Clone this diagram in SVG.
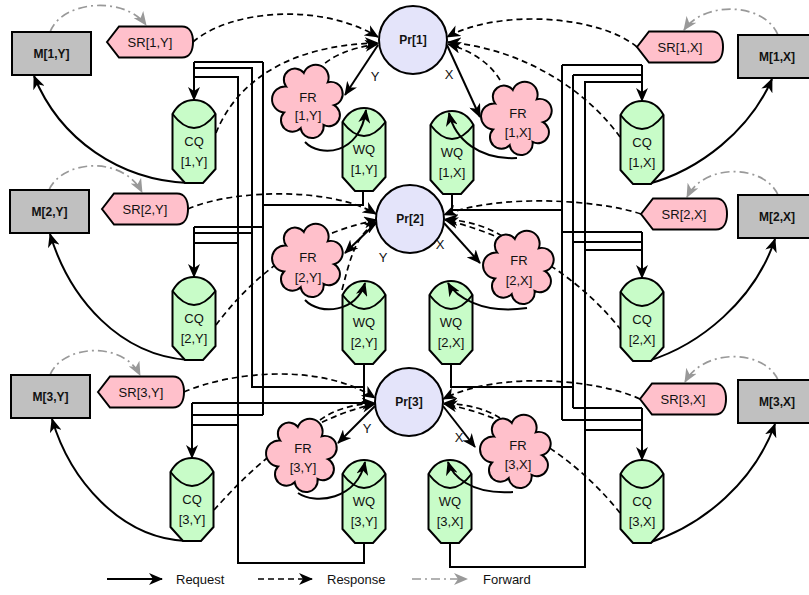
<svg xmlns="http://www.w3.org/2000/svg" width="809" height="595" viewBox="0 0 809 595">
<style>
text{font-family:"Liberation Sans",Arial,sans-serif;font-size:13px;fill:#111;text-anchor:middle}
.b{font-weight:bold;font-size:12px}
.m{fill:#C0C0C0;stroke:#000;stroke-width:2}
.pr{fill:#E4E4FA;stroke:#000;stroke-width:2}
.s{fill:none;stroke:#000;stroke-width:2}
.sa{fill:none;stroke:#000;stroke-width:2;marker-end:url(#ab)}
.d{fill:none;stroke:#000;stroke-width:1.7;stroke-dasharray:6 4;marker-end:url(#ab)}
.f{fill:none;stroke:#999;stroke-width:1.7;stroke-dasharray:9 4 2 4;marker-end:url(#ag)}
</style>
<defs>
<marker id="ab" viewBox="0 0 14 12" refX="13" refY="6" markerWidth="14" markerHeight="12" markerUnits="userSpaceOnUse" orient="auto"><path d="M0,0 L14,6 L0,12 L4,6 Z" fill="#000"/></marker>
<marker id="ag" viewBox="0 0 14 12" refX="13" refY="6" markerWidth="14" markerHeight="12" markerUnits="userSpaceOnUse" orient="auto"><path d="M0,0 L14,6 L0,12 L4,6 Z" fill="#999"/></marker>
<g id="queue">
<path d="M-21.5,14 C-16,4 -8,0 0,0 C8,0 16,4 21.5,14 V69 L9,83 H-9 L-21.5,69 Z" fill="#C8FCC8" stroke="#000" stroke-width="2"/>
<path d="M-21.5,14 Q0,42 21.5,14" fill="none" stroke="#000" stroke-width="2"/>
</g>
<path id="cloud" d="M-5,-26 A1 1 0 0 1 18,-17 A1 1 0 0 1 24,5 A1 1 0 0 1 14,24 A1 1 0 0 1 -8,27 A1 1 0 0 1 -24,12 A1 1 0 0 1 -22,-13 A1 1 0 0 1 -5,-26 Z" fill="#FFC0CB" stroke="#000" stroke-width="1.9"/>
<path id="sr" d="M-43,0 L-31,-15.5 H32 C40,-15.5 43,-8 43,0 C43,8 40,15.5 32,15.5 H-31 Z" fill="#FFC0CB" stroke="#000" stroke-width="2"/>
</defs>
<rect width="809" height="595" fill="#fff"/>

<g id="connectors">
<path class="f" d="M50,32 C62,0 125,-4 146,25"/>
<path class="f" d="M49,190 C62,160 122,155 142,192"/>
<path class="f" d="M50,375 C62,345 122,340 140,375"/>
<path class="f" d="M778,35 C765,3 705,0 684,30"/>
<path class="f" d="M778,195 C765,165 705,162 687,197"/>
<path class="f" d="M778,380 C765,350 705,347 685,382"/>
<path class="sa" d="M188,183 C120,180 60,140 34,76"/>
<path class="sa" d="M188,360 C120,355 70,300 50,234"/>
<path class="sa" d="M186,541 C120,538 70,480 52,419"/>
<path class="sa" d="M648,184 C700,170 750,130 772,79"/>
<path class="sa" d="M648,361 C700,345 755,300 775,239"/>
<path class="sa" d="M648,543 C705,525 755,480 775,424"/>
<path class="d" d="M193,42 C230,10 320,2 378,37"/>
<path class="d" d="M188,209 C230,190 330,186 376,214"/>
<path class="d" d="M184,392 C230,372 320,362 375,398"/>
<path class="d" d="M637,47 C600,16 500,8 447,37"/>
<path class="d" d="M641,214 C600,200 500,193 444,215"/>
<path class="d" d="M640,399 C600,380 500,370 443,399"/>
<path class="d" d="M216,133 C235,85 285,45 378,43"/>
<path class="d" d="M216,325 C250,280 300,235 377,220"/>
<path class="d" d="M214,510 C250,470 300,420 375,404"/>
<path class="d" d="M620,137 C590,95 530,50 448,42"/>
<path class="d" d="M621,330 C590,290 530,240 445,220"/>
<path class="d" d="M620,513 C590,475 530,420 444,404"/>
<path class="d" d="M318,70 Q335,50 378,44"/>
<path class="d" d="M342,290 C350,260 355,235 377,222"/>
<path class="d" d="M320,420 Q340,405 375,403"/>
<path class="d" d="M500,80 Q485,55 448,44"/>
<path class="d" d="M502,236 Q480,222 445,219"/>
<path class="d" d="M500,418 Q480,405 444,403"/>
<path class="s" d="M363,191 V205 H263 M263,62 V415 M263,62 H194 M263,227 H194 M263,415 H192"/>
<path class="s" d="M364,364 V403 H192 M364,387 H252 V68 H194 M252,233 H194"/>
<path class="s" d="M364,543 V563 H238 V77 H194 M238,243 H194 M238,425 H192"/>
<path class="sa" d="M194,62 V100"/>
<path class="sa" d="M194,227 V277"/>
<path class="sa" d="M192,403 V458"/>
<path class="s" d="M452,194 V210 H562 M562,65 V420 M562,65 H642 M562,232 H642 M562,420 H642"/>
<path class="s" d="M451,364 V387 H573 M573,75 V408 M573,75 H642 M573,242 H642 M573,408 H642"/>
<path class="s" d="M450,543 V567 H585 V82 H642 M585,250 H642 M585,430 H642"/>
<path class="sa" d="M642,65 V101"/>
<path class="sa" d="M642,232 V278"/>
<path class="sa" d="M642,408 V460"/>
</g>

<g id="M_1_Y"><rect class="m" x="12" y="32" width="79" height="43"/><text class="b" x="51.5" y="58">M[1,Y]</text></g>
<g id="M_2_Y"><rect class="m" x="10" y="190" width="79" height="43"/><text class="b" x="49.5" y="216">M[2,Y]</text></g>
<g id="M_3_Y"><rect class="m" x="11" y="375" width="79" height="43"/><text class="b" x="50.5" y="401">M[3,Y]</text></g>
<g id="M_1_X"><rect class="m" x="738" y="35" width="79" height="43"/><text class="b" x="777" y="61">M[1,X]</text></g>
<g id="M_2_X"><rect class="m" x="738" y="195" width="79" height="43"/><text class="b" x="777" y="221">M[2,X]</text></g>
<g id="M_3_X"><rect class="m" x="738" y="380" width="79" height="43"/><text class="b" x="777" y="406">M[3,X]</text></g>

<g id="SR_1_Y"><use href="#sr" x="150" y="42"/><text x="150" y="47">SR[1,Y]</text></g>
<g id="SR_2_Y"><use href="#sr" x="145" y="209"/><text x="145" y="214">SR[2,Y]</text></g>
<g id="SR_3_Y"><use href="#sr" x="141" y="392"/><text x="141" y="397">SR[3,Y]</text></g>
<g id="SR_1_X"><use href="#sr" x="680" y="47"/><text x="680" y="52">SR[1,X]</text></g>
<g id="SR_2_X"><use href="#sr" x="684" y="214"/><text x="684" y="219">SR[2,X]</text></g>
<g id="SR_3_X"><use href="#sr" x="683" y="399"/><text x="683" y="404">SR[3,X]</text></g>

<g id="CQ_1_Y"><use href="#queue" x="194" y="100"/><text x="194" y="146">CQ</text><text x="194" y="166">[1,Y]</text></g>
<g id="CQ_2_Y"><use href="#queue" x="194" y="277"/><text x="194" y="323">CQ</text><text x="194" y="343">[2,Y]</text></g>
<g id="CQ_3_Y"><use href="#queue" x="192" y="458"/><text x="192" y="504">CQ</text><text x="192" y="524">[3,Y]</text></g>
<g id="CQ_1_X"><use href="#queue" x="642" y="101"/><text x="642" y="147">CQ</text><text x="642" y="167">[1,X]</text></g>
<g id="CQ_2_X"><use href="#queue" x="642" y="278"/><text x="642" y="324">CQ</text><text x="642" y="344">[2,X]</text></g>
<g id="CQ_3_X"><use href="#queue" x="642" y="460"/><text x="642" y="506">CQ</text><text x="642" y="526">[3,X]</text></g>

<g id="WQ_1_Y"><use href="#queue" x="364" y="108"/><text x="364" y="154">WQ</text><text x="364" y="174">[1,Y]</text></g>
<g id="WQ_1_X"><use href="#queue" x="452" y="111"/><text x="452" y="157">WQ</text><text x="452" y="177">[1,X]</text></g>
<g id="WQ_2_Y"><use href="#queue" x="364" y="281"/><text x="364" y="327">WQ</text><text x="364" y="347">[2,Y]</text></g>
<g id="WQ_2_X"><use href="#queue" x="451" y="281"/><text x="451" y="327">WQ</text><text x="451" y="347">[2,X]</text></g>
<g id="WQ_3_Y"><use href="#queue" x="364" y="460"/><text x="364" y="506">WQ</text><text x="364" y="526">[3,Y]</text></g>
<g id="WQ_3_X"><use href="#queue" x="450" y="460"/><text x="450" y="506">WQ</text><text x="450" y="526">[3,X]</text></g>

<g id="FR_1_Y"><use href="#cloud" transform="translate(309,100) scale(1.04)"/><text x="308" y="102">FR</text><text x="308" y="120">[1,Y]</text></g>
<g id="FR_1_X"><use href="#cloud" transform="translate(518,117) scale(1.04)"/><text x="518" y="118">FR</text><text x="518" y="137">[1,X]</text></g>
<g id="FR_2_Y"><use href="#cloud" transform="translate(309,259) scale(1.04)"/><text x="308" y="262">FR</text><text x="308" y="282">[2,Y]</text></g>
<g id="FR_2_X"><use href="#cloud" transform="translate(520,266) scale(1.04)"/><text x="519" y="265">FR</text><text x="519" y="285">[2,X]</text></g>
<g id="FR_3_Y"><use href="#cloud" transform="translate(303,454) scale(1.04)"/><text x="303" y="453">FR</text><text x="303" y="472">[3,Y]</text></g>
<g id="FR_3_X"><use href="#cloud" transform="translate(517,450) scale(1.04)"/><text x="518" y="450">FR</text><text x="518" y="469">[3,X]</text></g>

<g id="Pr_1"><circle class="pr" cx="413" cy="40" r="34"/><text class="b" x="413" y="44">Pr[1]</text></g>
<g id="Pr_2"><circle class="pr" cx="410" cy="219" r="34"/><text class="b" x="410" y="223">Pr[2]</text></g>
<g id="Pr_3"><circle class="pr" cx="409" cy="402" r="34"/><text class="b" x="409" y="406">Pr[3]</text></g>

<g id="connectors-over">
<path class="sa" d="M378,45 L345,95"/>
<path class="sa" d="M376,223 L345,253"/>
<path class="sa" d="M375,406 L338,443"/>
<path class="sa" d="M447,45 L480,117"/>
<path class="sa" d="M444,223 L480,263"/>
<path class="sa" d="M443,406 L475,447"/>
<path class="sa" d="M305,142 C320,158 360,155 366,110"/>
<path class="sa" d="M517,158 C480,160 455,140 449,113"/>
<path class="sa" d="M305,300 C320,316 357,312 365,283"/>
<path class="sa" d="M527,308 C480,315 455,295 448,283"/>
<path class="sa" d="M298,493 C315,505 357,500 365,462"/>
<path class="sa" d="M513,492 C470,495 452,475 448,462"/>
</g>

<g id="edge-labels">
<text x="375" y="81">Y</text><text x="449" y="79">X</text>
<text x="383" y="262">Y</text><text x="440" y="249">X</text>
<text x="367" y="433">Y</text><text x="459" y="442">X</text>
</g>

<g id="legend">
<path class="sa" d="M107,579 H162"/><text x="176" y="584" style="text-anchor:start">Request</text>
<path class="d" d="M258,579 H312"/><text x="327" y="584" style="text-anchor:start">Response</text>
<path class="f" d="M412,579 H467"/><text x="483" y="584" style="text-anchor:start">Forward</text>
</g>
</svg>
